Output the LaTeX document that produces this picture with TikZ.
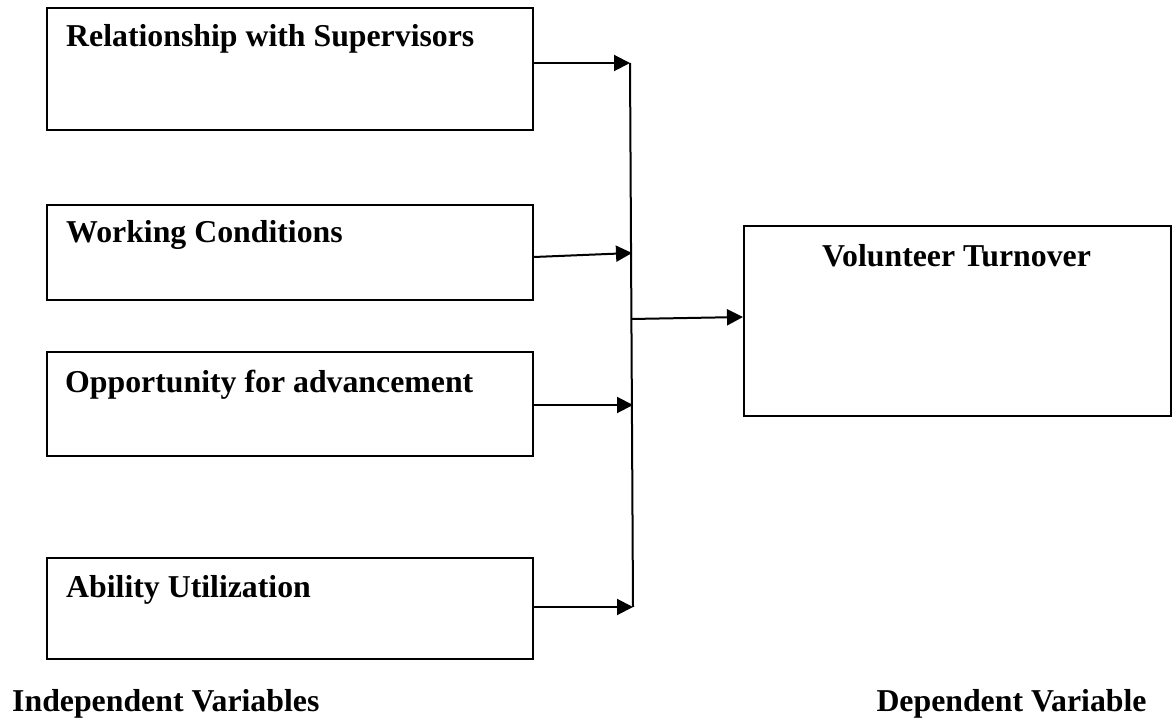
\documentclass[tikz,border=0pt]{standalone}
\usepackage{fontspec}
\setmainfont{Liberation Serif}
\usetikzlibrary{arrows.meta,calc}
\begin{document}
\begin{tikzpicture}[x=1pt,y=-1pt,
  box/.style={draw,line width=2pt,rectangle,inner sep=0pt,anchor=north west},
  lbl/.style={anchor=base west,inner sep=0pt,font=\fontsize{31.8}{38}\selectfont\bfseries},
  arr/.style={line width=2pt,-{Triangle[length=16pt,width=16pt]}},
  bus/.style={line width=2pt}]
\useasboundingbox (0,0) rectangle (1175,727);
% independent variable boxes
\node[box,minimum width=486.5pt,minimum height=122pt] (b1) at (45.5,7) {};
\node[box,minimum width=486.5pt,minimum height=95pt] (b2) at (45.5,204) {};
\node[box,minimum width=486.5pt,minimum height=104pt] (b3) at (45.5,351) {};
\node[box,minimum width=486.5pt,minimum height=101pt] (b4) at (45.5,557) {};
% dependent variable box
\node[box,minimum width=427pt,minimum height=190pt] (b5) at (743,225) {};
% texts
\node[lbl] (t1) at ($(b1.north west)+(20.5,40)$) {Relationship with Supervisors};
\node[lbl] (t2) at ($(b2.north west)+(20.5,39)$) {Working Conditions};
\node[lbl] (t3) at ($(b3.north west)+(19.5,41)$) {Opportunity for advancement};
\node[lbl] (t4) at ($(b4.north west)+(20.5,40)$) {Ability Utilization};
\node[lbl,anchor=base] (t5) at (956.5,267) {Volunteer Turnover};
\node[lbl] (iv) at (12,711) {Independent Variables};
\node[lbl,anchor=base] (dv) at (1011.5,711) {Dependent Variable};
% bus coordinates
\coordinate (j1) at (630,63);
\coordinate (j2) at (632,253);
\coordinate (j3) at (633,405);
\coordinate (j4) at (633,607);
\coordinate (jm) at (631.5,319);
\coordinate (s1) at ($(b1.north east)+(0,56)$);
\coordinate (s2) at ($(b2.north east)+(0,53)$);
\coordinate (s3) at ($(b3.north east)+(0,54)$);
\coordinate (s4) at ($(b4.north east)+(0,50)$);
\coordinate (e5) at ($(b5.north west)+(0,92)$);
% connectors
\draw[bus] (j1) -- (j4);
\draw[arr] (s1) -- (j1);
\draw[arr] (s2) -- (j2);
\draw[arr] (s3) -- (j3);
\draw[arr] (s4) -- (j4);
\draw[arr] (jm) -- (e5);
\end{tikzpicture}
\end{document}
